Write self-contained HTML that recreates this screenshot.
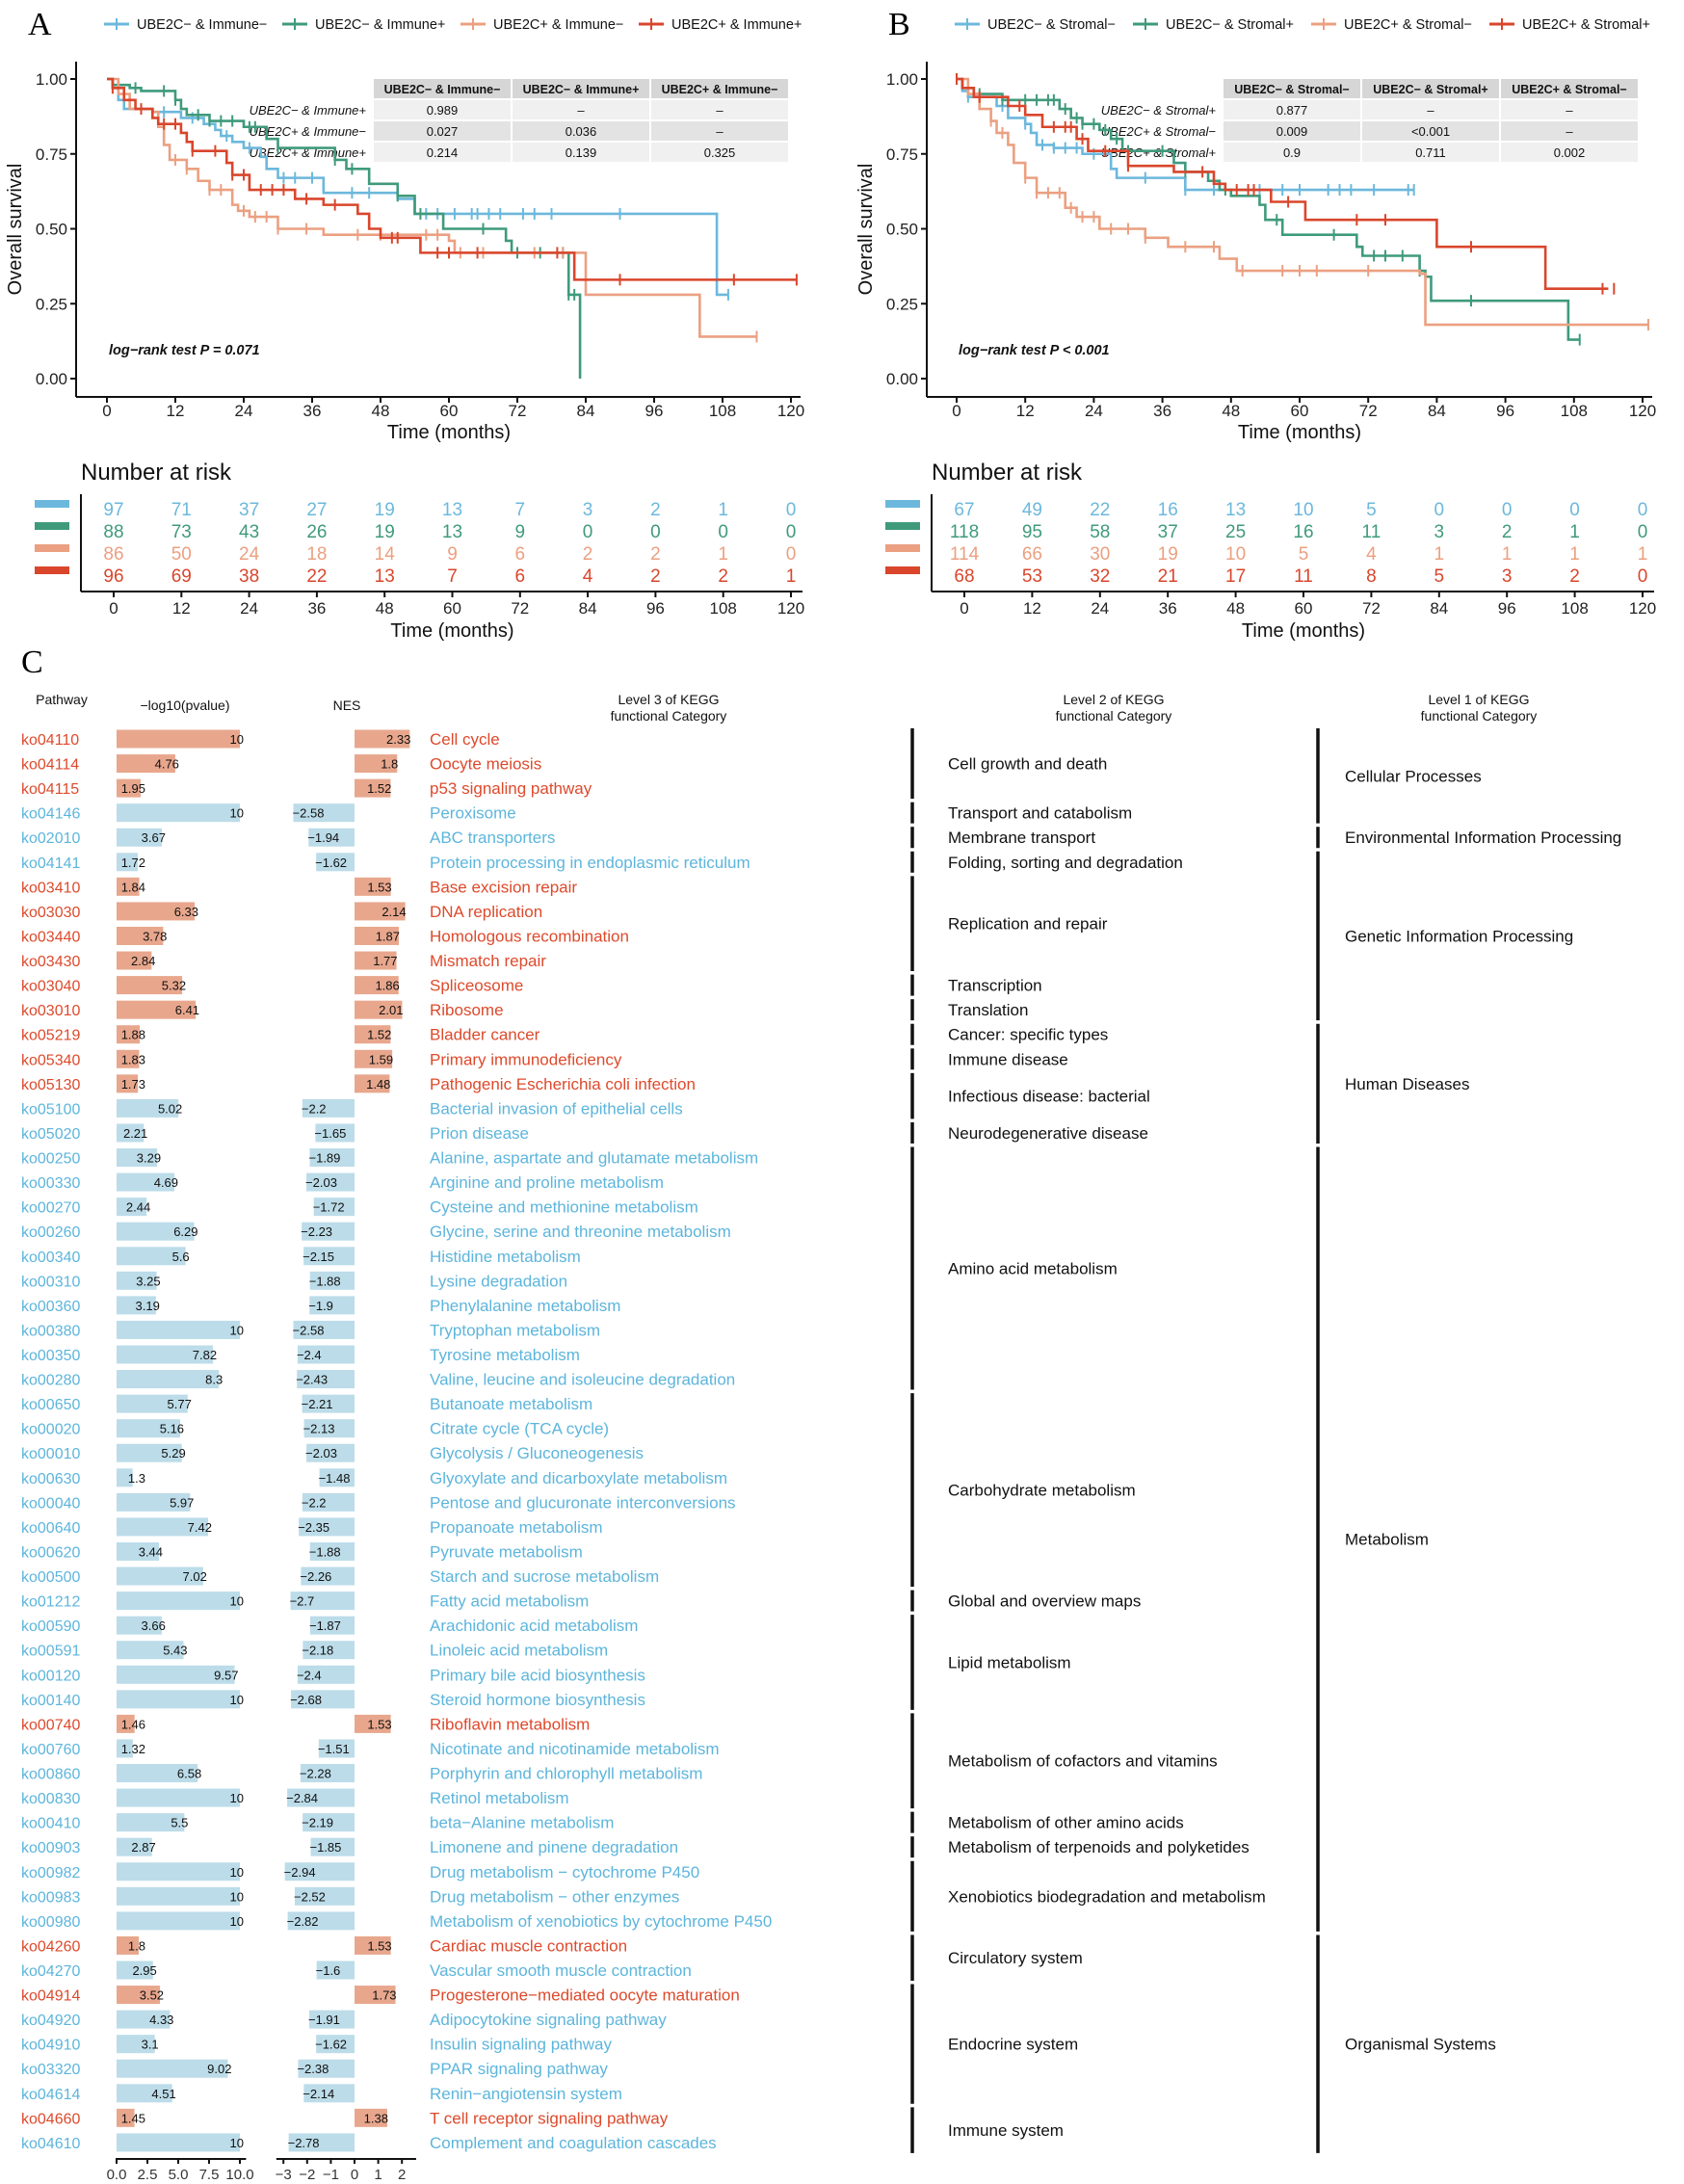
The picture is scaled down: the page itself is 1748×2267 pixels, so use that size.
<!DOCTYPE html>
<html><head><meta charset="utf-8">
<style>
html,body{margin:0;padding:0;background:#fff;}
svg{display:block;font-family:"Liberation Sans",Arial,sans-serif;}
</style></head>
<body>
<svg id="fig" width="1748" height="2267" viewBox="0 0 1748 2267" xmlns="http://www.w3.org/2000/svg"></svg>
<script>
// ---------- Panel A data ----------
const aLegend = ["UBE2C\u2212 & Immune\u2212","UBE2C\u2212 & Immune+","UBE2C+ & Immune\u2212","UBE2C+ & Immune+"];
const aBlue  = [[0,1],[1,0.97],[2,0.93],[3,0.90],[8,0.89],[13,0.87],[17,0.85],[19,0.83],[20,0.81],[22,0.79],[24,0.77],[27,0.74],[28,0.70],[30,0.67],[38,0.62],[51,0.60],[54,0.55],[107,0.28],[109,0.28]];
const aGreen = [[0,1],[1,0.98],[4,0.97],[6,0.96],[12,0.93],[13,0.90],[14,0.88],[18,0.86],[24,0.84],[28,0.80],[30,0.77],[40,0.73],[42,0.70],[46,0.65],[51,0.61],[54,0.55],[59,0.50],[70,0.46],[71,0.42],[81,0.28],[83,0.0],[83,0.0]];
const aSalmon= [[0,1],[2,0.95],[4,0.90],[8,0.89],[9,0.84],[10,0.78],[11,0.73],[14,0.70],[16,0.66],[18,0.63],[22,0.58],[23,0.56],[25,0.54],[30,0.50],[38,0.48],[60,0.46],[61,0.42],[84,0.28],[104,0.14],[114,0.14]];
const aRed   = [[0,1],[1,0.97],[3,0.93],[5,0.90],[8,0.87],[9,0.85],[13,0.82],[14,0.79],[15,0.76],[21,0.72],[22,0.68],[25,0.63],[33,0.60],[38,0.58],[44,0.55],[46,0.50],[48,0.47],[55,0.42],[81,0.42],[82,0.33],[121,0.33]];
const aCensorBlue  = [10,15,21,25,31,33,36,43,46,56,58,61,64,65,67,69,73,75,78,90,109];
const aCensorGreen = [5,10,12,16,18,20,22,25,26,30,40,43,51,55,66,72,76,80,81,82];
const aCensorSalmon= [12,14,18,20,24,26,28,30,35,44,48,56,58,62,66,75,80,114];
const aCensorRed   = [1,6,10,12,15,19,22,24,27,29,31,35,40,50,51,58,60,65,79,90,110,121];
const aTableCols = ["UBE2C\u2212 & Immune\u2212","UBE2C\u2212 & Immune+","UBE2C+ & Immune\u2212"];
const aTableRows = ["UBE2C\u2212 & Immune+","UBE2C+ & Immune\u2212","UBE2C+ & Immune+"];
const aTableVals = [["0.989","\u2013","\u2013"],["0.027","0.036","\u2013"],["0.214","0.139","0.325"]];
const aRisk = [[97,71,37,27,19,13,7,3,2,1,0],[88,73,43,26,19,13,9,0,0,0,0],[86,50,24,18,14,9,6,2,2,1,0],[96,69,38,22,13,7,6,4,2,2,1]];
// ---------- Panel B data ----------
const bLegend = ["UBE2C\u2212 & Stromal\u2212","UBE2C\u2212 & Stromal+","UBE2C+ & Stromal\u2212","UBE2C+ & Stromal+"];
const bBlue  = [[0,1],[1,0.96],[2,0.94],[7,0.91],[9,0.87],[12,0.85],[13,0.82],[14,0.78],[17,0.77],[22,0.75],[27,0.70],[28,0.67],[40,0.63],[80,0.63]];
const bGreen = [[0,1],[1,0.97],[3,0.95],[8,0.93],[18,0.90],[20,0.87],[22,0.85],[25,0.83],[27,0.80],[29,0.76],[38,0.72],[40,0.69],[44,0.66],[46,0.63],[48,0.61],[53,0.58],[54,0.53],[57,0.48],[70,0.44],[71,0.41],[81,0.36],[82,0.34],[83,0.26],[107,0.13],[109,0.13]];
const bSalmon= [[0,1],[2,0.95],[4,0.90],[6,0.86],[7,0.82],[9,0.78],[10,0.72],[12,0.67],[14,0.62],[19,0.57],[21,0.54],[25,0.50],[33,0.47],[37,0.44],[46,0.40],[49,0.36],[81,0.35],[82,0.18],[121,0.18]];
const bRed   = [[0,1],[1,0.97],[3,0.94],[9,0.91],[12,0.88],[15,0.84],[21,0.80],[23,0.76],[30,0.71],[38,0.69],[45,0.65],[47,0.63],[55,0.59],[61,0.53],[84,0.44],[103,0.30],[114,0.30]];
const bCensorBlue  = [2,8,12,15,17,19,21,24,33,40,45,53,57,60,65,67,69,73,79,80];
const bCensorGreen = [4,8,12,14,16,17,19,21,22,24,26,28,30,36,40,47,56,66,73,75,78,81,90,109];
const bCensorSalmon= [6,8,12,14,16,18,20,22,24,27,30,33,40,45,50,57,60,63,72,121];
const bCensorRed   = [0,4,11,17,19,20,22,26,30,43,49,51,52,58,70,75,90,113,115];
const bTableCols = ["UBE2C\u2212 & Stromal\u2212","UBE2C\u2212 & Stromal+","UBE2C+ & Stromal\u2212"];
const bTableRows = ["UBE2C\u2212 & Stromal+","UBE2C+ & Stromal\u2212","UBE2C+ & Stromal+"];
const bTableVals = [["0.877","\u2013","\u2013"],["0.009","<0.001","\u2013"],["0.9","0.711","0.002"]];
const bRisk = [[67,49,22,16,13,10,5,0,0,0,0],[118,95,58,37,25,16,11,3,2,1,0],[114,66,30,19,10,5,4,1,1,1,1],[68,53,32,21,17,11,8,5,3,2,0]];
const timeTicks = [0,12,24,36,48,60,72,84,96,108,120];
const survTicks = [0,0.25,0.5,0.75,1];
// ---------- Panel C data ----------
const pathIds = ["ko04110","ko04114","ko04115","ko04146","ko02010","ko04141","ko03410","ko03030","ko03440","ko03430","ko03040","ko03010","ko05219","ko05340","ko05130","ko05100","ko05020","ko00250","ko00330","ko00270","ko00260","ko00340","ko00310","ko00360","ko00380","ko00350","ko00280","ko00650","ko00020","ko00010","ko00630","ko00040","ko00640","ko00620","ko00500","ko01212","ko00590","ko00591","ko00120","ko00140","ko00740","ko00760","ko00860","ko00830","ko00410","ko00903","ko00982","ko00983","ko00980","ko04260","ko04270","ko04914","ko04920","ko04910","ko03320","ko04614","ko04660","ko04610"];
const pathNames = ["Cell cycle","Oocyte meiosis","p53 signaling pathway","Peroxisome","ABC transporters","Protein processing in endoplasmic reticulum","Base excision repair","DNA replication","Homologous recombination","Mismatch repair","Spliceosome","Ribosome","Bladder cancer","Primary immunodeficiency","Pathogenic Escherichia coli infection","Bacterial invasion of epithelial cells","Prion disease","Alanine, aspartate and glutamate metabolism","Arginine and proline metabolism","Cysteine and methionine metabolism","Glycine, serine and threonine metabolism","Histidine metabolism","Lysine degradation","Phenylalanine metabolism","Tryptophan metabolism","Tyrosine metabolism","Valine, leucine and isoleucine degradation","Butanoate metabolism","Citrate cycle (TCA cycle)","Glycolysis / Gluconeogenesis","Glyoxylate and dicarboxylate metabolism","Pentose and glucuronate interconversions","Propanoate metabolism","Pyruvate metabolism","Starch and sucrose metabolism","Fatty acid metabolism","Arachidonic acid metabolism","Linoleic acid metabolism","Primary bile acid biosynthesis","Steroid hormone biosynthesis","Riboflavin metabolism","Nicotinate and nicotinamide metabolism","Porphyrin and chlorophyll metabolism","Retinol metabolism","beta\u2212Alanine metabolism","Limonene and pinene degradation","Drug metabolism \u2212 cytochrome P450","Drug metabolism \u2212 other enzymes","Metabolism of xenobiotics by cytochrome P450","Cardiac muscle contraction","Vascular smooth muscle contraction","Progesterone\u2212mediated oocyte maturation","Adipocytokine signaling pathway","Insulin signaling pathway","PPAR signaling pathway","Renin\u2212angiotensin system","T cell receptor signaling pathway","Complement and coagulation cascades"];
const logP = [10,4.76,1.95,10,3.67,1.72,1.84,6.33,3.78,2.84,5.32,6.41,1.88,1.83,1.73,5.02,2.21,3.29,4.69,2.44,6.29,5.6,3.25,3.19,10,7.82,8.3,5.77,5.16,5.29,1.3,5.97,7.42,3.44,7.02,10,3.66,5.43,9.57,10,1.46,1.32,6.58,10,5.5,2.87,10,10,10,1.8,2.95,3.52,4.33,3.1,9.02,4.51,1.45,10];
const nes = [2.33,1.8,1.52,-2.58,-1.94,-1.62,1.53,2.14,1.87,1.77,1.86,2.01,1.52,1.59,1.48,-2.2,-1.65,-1.89,-2.03,-1.72,-2.23,-2.15,-1.88,-1.9,-2.58,-2.4,-2.43,-2.21,-2.13,-2.03,-1.48,-2.2,-2.35,-1.88,-2.26,-2.7,-1.87,-2.18,-2.4,-2.68,1.53,-1.51,-2.28,-2.84,-2.19,-1.85,-2.94,-2.52,-2.82,1.53,-1.6,1.73,-1.91,-1.62,-2.38,-2.14,1.38,-2.78];
const level2Names = ["Cell growth and death","Transport and catabolism","Membrane transport","Folding, sorting and degradation","Replication and repair","Transcription","Translation","Cancer: specific types","Immune disease","Infectious disease: bacterial","Neurodegenerative disease","Amino acid metabolism","Carbohydrate metabolism","Global and overview maps","Lipid metabolism","Metabolism of cofactors and vitamins","Metabolism of other amino acids","Metabolism of terpenoids and polyketides","Xenobiotics biodegradation and metabolism","Circulatory system","Endocrine system","Immune system"];
const level2Counts = [3,1,1,1,4,1,1,1,1,2,1,10,8,1,4,4,1,1,3,2,5,2];
const level1Names = ["Cellular Processes","Environmental Information Processing","Genetic Information Processing","Human Diseases","Metabolism","Organismal Systems"];
const level1Counts = [4,1,7,5,32,9];
const logTicks = [0,2.5,5,7.5,10];
const logTickLabels = ["0.0","2.5","5.0","7.5","10.0"];
const nesTicks = [-3,-2,-1,0,1,2];

const NS="http://www.w3.org/2000/svg";
const svg=document.getElementById('fig');
function mk(tag,attrs,parent,text){const e=document.createElementNS(NS,tag);for(const k in attrs)e.setAttribute(k,attrs[k]);if(text!==undefined)e.textContent=text;(parent||svg).appendChild(e);return e;}
const COL=["#6cb8dc","#3f9a7c","#eba081","#d9462c"];

function drawKM(P){
  const g=mk('g',{});
  
  
  const xs=t=>P.x0+t*P.xw/120, ys=s=>P.y1+(1-s)*(P.y0-P.y1);
  const L=mk('text',{x:P.letterX,y:36,'font-family':'Liberation Serif,serif','font-size':34},g,P.letter);
  
  
  P.legend.forEach((lab,i)=>{
    const lx=P.legX+i*185;
    const lg=mk('g',{},g);
    
    
    mk('line',{x1:lx,y1:25,x2:lx+26,y2:25,stroke:COL[i],'stroke-width':3},lg);
    mk('line',{x1:lx+13,y1:19,x2:lx+13,y2:31,stroke:COL[i],'stroke-width':2},lg);
    mk('text',{x:lx+34,y:30,'font-size':14.5,fill:'#111'},lg,lab);
  });
  const ax=mk('g',{stroke:'#111','stroke-width':2},g);
  
  
  mk('line',{x1:P.axX,y1:P.y1-18,x2:P.axX,y2:412},ax);
  mk('line',{x1:P.axX,y1:412,x2:P.x0+P.xw+10,y2:412},ax);
  survTicks.forEach(s=>{
    mk('line',{x1:P.axX-6,y1:ys(s),x2:P.axX,y2:ys(s)},ax);
    const t=mk('text',{x:P.axX-9,y:ys(s)+6,'font-size':17,'text-anchor':'end',fill:'#222',stroke:'none'},g,s.toFixed(2));
    
    
  });
  timeTicks.forEach(t=>{
    mk('line',{x1:xs(t),y1:412,x2:xs(t),y2:418},ax);
    const tx=mk('text',{x:xs(t),y:432,'font-size':17,'text-anchor':'middle',fill:'#222'},g,t);
    
    
  });
  const xt=mk('text',{x:xs(60),y:455,'font-size':20,'text-anchor':'middle',fill:'#111'},g,'Time (months)');
  
  
  const yt=mk('text',{x:0,y:0,'font-size':20,'text-anchor':'middle',fill:'#111',transform:`translate(${P.axX-57},238) rotate(-90)`},g,'Overall survival');
  
  
  const tb=mk('g',{},g);
  
  
  const tx0=P.tabX, cw=144;
  P.tCols.forEach((c,j)=>{
    mk('rect',{x:tx0+j*cw+1,y:82,width:cw-2,height:20,fill:'#d6d6d6'},tb);
    mk('text',{x:tx0+j*cw+cw/2,y:97,'font-size':12.5,'font-weight':'bold','text-anchor':'middle',fill:'#111'},tb,c);
  });
  P.tRows.forEach((r,i)=>{
    const ry=103+i*22;
    mk('text',{x:tx0-7,y:ry+16,'font-size':13,'font-style':'italic','text-anchor':'end',fill:'#111'},tb,r);
    P.tVals[i].forEach((v,j)=>{
      mk('rect',{x:tx0+j*cw+1,y:ry+1,width:cw-2,height:20,fill:i%2?'#e3e3e3':'#f0f0f0'},tb);
      mk('text',{x:tx0+j*cw+cw/2,y:ry+16,'font-size':13,'text-anchor':'middle',fill:'#111'},tb,v);
    });
  });
  const lr=mk('text',{x:P.x0+2,y:368,'font-size':14.5,'font-weight':'bold','font-style':'italic',fill:'#111'},g,P.logrank);
  
  
  P.curves.forEach((c,i)=>{
    let d='';
    c.forEach((p,k)=>{ if(k===0) d+=`M${xs(p[0])},${ys(p[1])}`; else d+=`H${xs(p[0])}V${ys(p[1])}`; });
    const path=mk('path',{d:d,fill:'none',stroke:COL[i],'stroke-width':2.6},g);
    
    
    const sAt=t=>{let s=1;for(const p of c){if(p[0]<=t)s=p[1];}return s;};
    P.censors[i].forEach(t=>{
      const cm=mk('line',{x1:xs(t),y1:ys(sAt(t))-6,x2:xs(t),y2:ys(sAt(t))+6,stroke:COL[i],'stroke-width':2},g);
      
      
    });
  });
  const rg=mk('g',{},g);
  
  
  mk('text',{x:P.rAx,y:498,'font-size':24,fill:'#111'},rg,'Number at risk');
  mk('line',{x1:P.rAx,y1:513,x2:P.rAx,y2:614,stroke:'#111','stroke-width':2},rg);
  mk('line',{x1:P.rAx,y1:614,x2:P.rx0+P.rxw+12,y2:614,stroke:'#111','stroke-width':2},rg);
  const rx=t=>P.rx0+t*P.rxw/120;
  P.risk.forEach((row,i)=>{
    const ry=529+i*23;
    mk('rect',{x:P.rAx-48,y:ry-10,width:36,height:8,fill:COL[i]},rg);
    row.forEach((v,j)=>{ mk('text',{x:rx(timeTicks[j]),y:ry+6,'font-size':19,'text-anchor':'middle',fill:COL[i]},rg,v); });
  });
  timeTicks.forEach(t=>{
    mk('line',{x1:rx(t),y1:614,x2:rx(t),y2:620,stroke:'#111','stroke-width':2},rg);
    mk('text',{x:rx(t),y:637,'font-size':17,'text-anchor':'middle',fill:'#222'},rg,t);
  });
  mk('text',{x:rx(60),y:661,'font-size':20,'text-anchor':'middle',fill:'#111'},rg,'Time (months)');
}
drawKM({name:'a',letter:'A',letterX:29,legend:aLegend,legX:108,axX:79,x0:111,xw:710,y1:82,y0:393,tabX:387,tCols:aTableCols,tRows:aTableRows,tVals:aTableVals,logrank:'log\u2212rank test P = 0.071',curves:[aBlue,aGreen,aSalmon,aRed],censors:[aCensorBlue,aCensorGreen,aCensorSalmon,aCensorRed],risk:aRisk,rAx:84,rx0:118,rxw:703});
drawKM({name:'b',letter:'B',letterX:922,legend:bLegend,legX:991,axX:962,x0:993,xw:712,y1:82,y0:393,tabX:1269,tCols:bTableCols,tRows:bTableRows,tVals:bTableVals,logrank:'log\u2212rank test P < 0.001',curves:[bBlue,bGreen,bSalmon,bRed],censors:[bCensorBlue,bCensorGreen,bCensorSalmon,bCensorRed],risk:bRisk,rAx:967,rx0:1001,rxw:704});

// ---------- Panel C ----------
const C=mk('g',{});


const CL=mk('text',{x:22,y:698,'font-family':'Liberation Serif,serif','font-size':34},C,'C');


const rowY=i=>767+i*25.56;
const lx=v=>121+v*12.8;
const nx=v=>368+v*24.6;
const RED='#dd4a2c', BLUE='#5db5dc', RBAR='#e8a78d', BBAR='#bcdce9';
function hdr(x,lines,y){const t=mk('text',{x:x,y:y,'font-size':14,'text-anchor':'middle',fill:'#111'},C);lines.forEach((l,k)=>mk('tspan',{x:x,dy:k?17:0},t,l));}
hdr(64,['Pathway'],731);
hdr(192,['\u2212log10(pvalue)'],737);
hdr(360,['NES'],737);
hdr(694,['Level 3 of KEGG','functional Category'],731);
hdr(1156,['Level 2 of KEGG','functional Category'],731);
hdr(1535,['Level 1 of KEGG','functional Category'],731);
pathIds.forEach((id,i)=>{
  const y=rowY(i), pos=nes[i]>0, col=pos?RED:BLUE;
  const rg=mk('g',{},C);
  
  
  mk('text',{x:22,y:y+6,'font-size':16,fill:col},rg,id);
  const b1=mk('rect',{x:lx(0),y:y-9.5,width:lx(logP[i])-lx(0),height:19,fill:pos?RBAR:BBAR},rg);
  
  
  const tEnd=Math.max(lx(logP[i])+4,lx(0)+30);
  mk('text',{x:tEnd,y:y+5,'font-size':13,'text-anchor':'end',fill:'#111'},rg,String(logP[i]));
  const b2=mk('rect',{x:Math.min(nx(0),nx(nes[i])),y:y-9.5,width:Math.abs(nx(nes[i])-nx(0)),height:19,fill:pos?RBAR:BBAR},rg);
  
  
  if(pos) mk('text',{x:nx(nes[i])+1,y:y+5,'font-size':13,'text-anchor':'end',fill:'#111'},rg,String(nes[i]));
  else mk('text',{x:nx(nes[i])-1,y:y+5,'font-size':13,'text-anchor':'start',fill:'#111'},rg,String(nes[i]).replace('-','\u2212'));
  mk('text',{x:446,y:y+6,'font-size':17,fill:col},rg,pathNames[i]);
});
function levels(names,counts,lineX,textX,nm){
  let s=0;
  names.forEach((n,k)=>{
    const e=s+counts[k]-1;
    const ln=mk('line',{x1:lineX,y1:rowY(s)-11,x2:lineX,y2:rowY(e)+11,stroke:'#111','stroke-width':3.5},C);
    
    
    const t=mk('text',{x:textX,y:(rowY(s)+rowY(e))/2+6,'font-size':17,fill:'#111'},C,n);
    
    
    s=e+1;
  });
}
levels(level2Names,level2Counts,947,984,'level2');
levels(level1Names,level1Counts,1368,1396,'level1');
const ag=mk('g',{},C);


mk('line',{x1:lx(0)-1,y1:2241,x2:lx(10.5),y2:2241,stroke:'#111','stroke-width':2},ag);
logTicks.forEach((v,k)=>{mk('line',{x1:lx(v),y1:2241,x2:lx(v),y2:2246,stroke:'#111','stroke-width':2},ag);mk('text',{x:lx(v),y:2262,'font-size':15,'text-anchor':'middle',fill:'#333'},ag,logTickLabels[k]);});
mk('line',{x1:nx(-3.3),y1:2241,x2:nx(2.6),y2:2241,stroke:'#111','stroke-width':2},ag);
nesTicks.forEach(v=>{mk('line',{x1:nx(v),y1:2241,x2:nx(v),y2:2246,stroke:'#111','stroke-width':2},ag);mk('text',{x:nx(v),y:2262,'font-size':15,'text-anchor':'middle',fill:'#333'},ag,String(v).replace('-','\u2212'));});
</script>
</body></html>
